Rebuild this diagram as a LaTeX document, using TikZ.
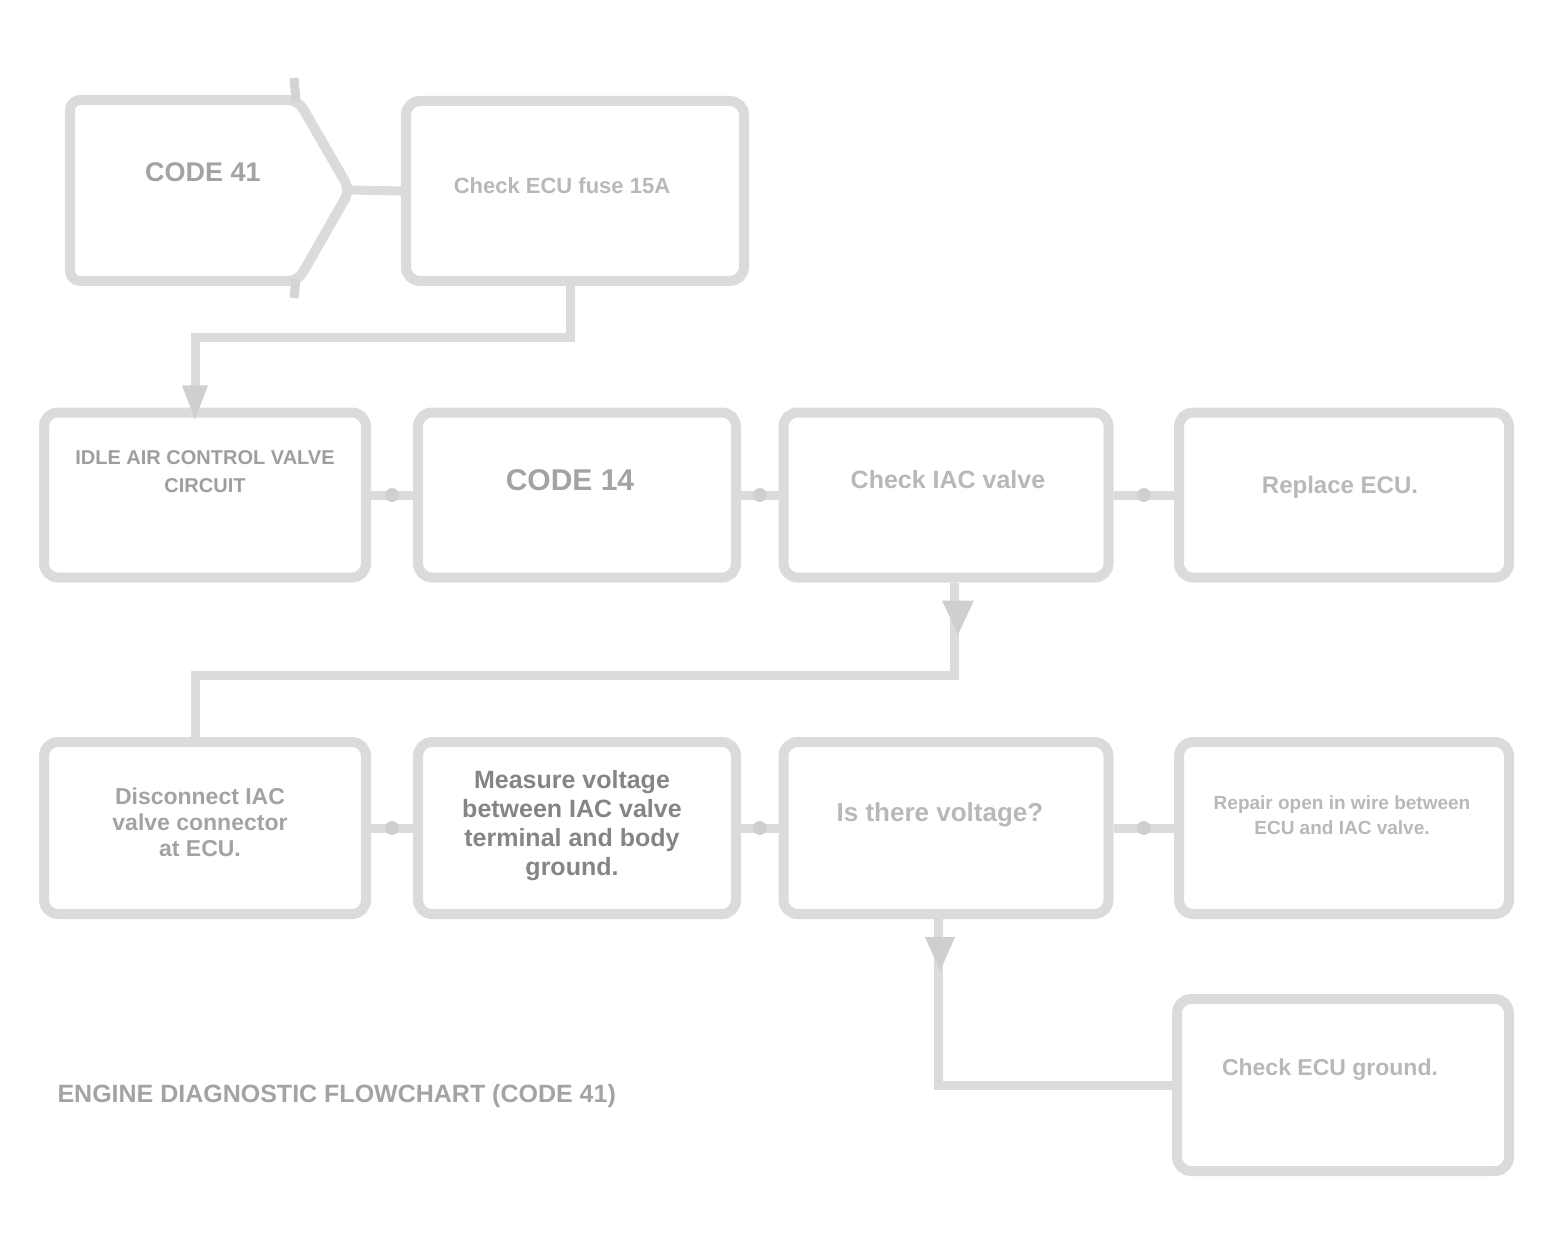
\documentclass[tikz,border=0pt]{standalone}
\usepackage{fontspec}
\setmainfont{Liberation Sans}
\usetikzlibrary{arrows.meta,calc}
\tikzset{
  boxline/.style={draw=black!14, line width=10pt},
  stepbox/.style={boxline, rounded corners=14pt, minimum width=#1, minimum height=165pt, inner sep=0pt, align=center},
  darktxt/.style={text=black!36, font=\bfseries\fontsize{24}{26}\selectfont, align=center},
  lighttxt/.style={text=black!28, font=\bfseries\fontsize{22}{24}\selectfont, align=center},
  link/.style={boxline, line width=9pt},
  tipmark/.style={fill=black!19, draw=none}
}
\begin{document}
\begin{tikzpicture}[x=1pt,y=-1pt]
\useasboundingbox (0,0) rectangle (1551,1249);
% start pentagon
\coordinate (starttip) at (350,190);
\draw[boxline, rounded corners=10pt, line join=round] (298,100) -- (starttip) -- (298,281) -- (70,281) -- (70,100) -- cycle;
\draw[boxline, line width=9pt, black!17] (296,102) -- (294,78);
\draw[boxline, line width=9pt, black!17] (296,279) -- (294,298);
\node[darktxt, font=\bfseries\fontsize{27}{29}\selectfont] (starttxt) at (203,172) {CODE 41};
\node[stepbox=338pt, minimum height=180pt] (b2) at (575,191) {};
\node[lighttxt] (b2txt) at (562,186) {Check ECU fuse 15A};
% row 2
\node[stepbox=322pt] (r2a) at (205,495) {};
\node[stepbox=318pt] (r2b) at (577,495) {};
\node[stepbox=325pt] (r2c) at (946,495) {};
\node[stepbox=330pt] (r2d) at (1344,495) {};
\node[darktxt, text=black!38, font=\bfseries\fontsize{20}{28}\selectfont] (r2atxt) at (205,472) {IDLE AIR CONTROL VALVE\\CIRCUIT};
\node[darktxt, font=\bfseries\fontsize{30}{32}\selectfont] (r2btxt) at (570,480) {CODE 14};
\node[lighttxt, font=\bfseries\fontsize{25}{27}\selectfont] (r2ctxt) at (948,480) {Check IAC valve};
\node[lighttxt, font=\bfseries\fontsize{24}{26}\selectfont] (r2dtxt) at (1340,487) {Replace ECU.};
% row 3
\node[stepbox=322pt, minimum height=172pt] (r3a) at (205,828) {};
\node[stepbox=318pt, minimum height=172pt] (r3b) at (577,828) {};
\node[stepbox=325pt, minimum height=172pt] (r3c) at (946,828) {};
\node[stepbox=330pt, minimum height=172pt] (r3d) at (1344,828) {};
\node[darktxt, text=black!36, font=\bfseries\fontsize{23}{26}\selectfont] (r3atxt) at (200,822) {Disconnect IAC\\valve connector\\at ECU.};
\node[darktxt, text=black!48, font=\bfseries\fontsize{25}{29}\selectfont] (r3btxt) at (572,826) {Measure voltage\\between IAC valve\\terminal and body\\ground.};
\node[lighttxt, font=\bfseries\fontsize{26}{28}\selectfont] (r3ctxt) at (940,815) {Is there voltage?};
\node[lighttxt, font=\bfseries\fontsize{19}{25}\selectfont] (r3dtxt) at (1342,815) {Repair open in wire between\\ECU and IAC valve.};
% last box
\node[stepbox=332pt, minimum height=172pt] (b5) at (1343,1085) {};
\node[lighttxt, font=\bfseries\fontsize{23}{25}\selectfont] (b5txt) at (1330,1070) {Check ECU ground.};
% caption
\node[darktxt, anchor=west, text=black!36, font=\bfseries\fontsize{25}{27}\selectfont] (cap) at (54,1096) {ENGINE DIAGNOSTIC FLOWCHART (CODE 41)};
% connectors
\draw[link] (starttip) -- (b2.west);
\draw[link] ([xshift=-5pt]b2.south) -- ++(0,52) -| ([xshift=-10pt]r2a.north);
\fill[tipmark] ([xshift=-10pt]r2a.north) ++(0,12) -- ++(-13,-34) -- ++(26,0) -- cycle;
\draw[link] (r2a.east) -- (r2b.west);
\draw[link] (r2b.east) -- (r2c.west);
\draw[link] (r2c.east) -- (r2d.west);
\draw[link] ([xshift=8pt]r2c.south) -- ++(0,93) -| ([xshift=-10pt]r3a.north);
\fill[tipmark] ([xshift=12pt]r2c.south) ++(0,52) -- ++(-16,-34) -- ++(32,0) -- cycle;
\draw[link] (r3a.east) -- (r3b.west);
\draw[link] (r3b.east) -- (r3c.west);
\draw[link] (r3c.east) -- (r3d.west);
\draw[link] ([xshift=-8pt]r3c.south) |- (b5.west);
\fill[tipmark] ([xshift=-6pt]r3c.south) ++(0,52) -- ++(-15,-34) -- ++(30,0) -- cycle;
% junction marks on row links
\fill[tipmark] ($(r2a.east)!0.5!(r2b.west)$) circle (7pt);
\fill[tipmark] ($(r2b.east)!0.5!(r2c.west)$) circle (7pt);
\fill[tipmark] ($(r2c.east)!0.5!(r2d.west)$) circle (7pt);
\fill[tipmark] ($(r3a.east)!0.5!(r3b.west)$) circle (7pt);
\fill[tipmark] ($(r3b.east)!0.5!(r3c.west)$) circle (7pt);
\fill[tipmark] ($(r3c.east)!0.5!(r3d.west)$) circle (7pt);
\end{tikzpicture}
\end{document}
